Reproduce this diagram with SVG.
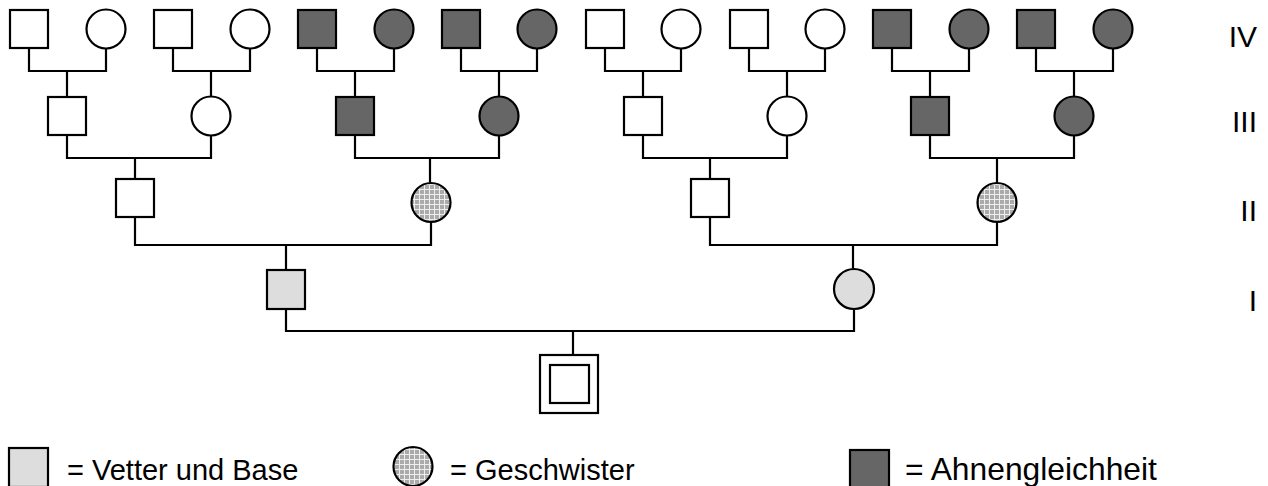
<svg xmlns="http://www.w3.org/2000/svg" width="1268" height="486" viewBox="0 0 1268 486">
<style>
.m{stroke:#000;stroke-width:2.2}
.w{fill:#fff}
.d{fill:#666}
.l{fill:#ddd}
.h{fill:url(#hatch)}
.ln{fill:none;stroke:#000;stroke-width:2.2}
text{font-family:"Liberation Sans",Arial,sans-serif;font-size:29px;fill:#000}
.g{text-anchor:end;font-size:30px}
.big{font-size:31.8px}
</style>
<defs>
<pattern id="hatch" width="5" height="5" patternUnits="userSpaceOnUse">
<rect width="5" height="5" fill="#eee"/>
<rect width="4" height="4" fill="#aaa"/>
</pattern>
</defs>
<g id="connectors" class="ln">
<path d="M29 48V71H106V48.5M67 71V97"/>
<path d="M173 48V71H250V48.5M211 71V97"/>
<path d="M317 48V71H394V48.5M355 71V97"/>
<path d="M461 48V71H537V48.5M499 71V97"/>
<path d="M605 48V71H681V48.5M643 71V97"/>
<path d="M749 48V71H825V48.5M787 71V97"/>
<path d="M892 48V71H969V48.5M930 71V97"/>
<path d="M1036 48V71H1113V48.5M1074 71V97"/>
<path d="M67 135V158H211V135.5M135 158V179"/>
<path d="M355 135V158H499V135.5M430 158V182.5"/>
<path d="M643 135V158H787V135.5M710 158V179"/>
<path d="M930 135V158H1074V135.5M997 158V182.5"/>
<path d="M135 217V245H431V221.5M286 245V270"/>
<path d="M710 217V245H997V221.5M853 245V268.5"/>
<path d="M286 309V331H854V309.5M573 331V355"/>
</g>
<g id="gen4">
<rect id="iv1" class="m w" x="10" y="10" width="38" height="38"/>
<circle id="iv2" class="m w" cx="106" cy="29" r="19.5"/>
<rect id="iv3" class="m w" x="154" y="10" width="38" height="38"/>
<circle id="iv4" class="m w" cx="250" cy="29" r="19.5"/>
<rect id="iv5" class="m d" x="298" y="10" width="38" height="38"/>
<circle id="iv6" class="m d" cx="394" cy="29" r="19.5"/>
<rect id="iv7" class="m d" x="442" y="10" width="38" height="38"/>
<circle id="iv8" class="m d" cx="537" cy="29" r="19.5"/>
<rect id="iv9" class="m w" x="586" y="10" width="38" height="38"/>
<circle id="iv10" class="m w" cx="681" cy="29" r="19.5"/>
<rect id="iv11" class="m w" x="730" y="10" width="38" height="38"/>
<circle id="iv12" class="m w" cx="825" cy="29" r="19.5"/>
<rect id="iv13" class="m d" x="873" y="10" width="38" height="38"/>
<circle id="iv14" class="m d" cx="969" cy="29" r="19.5"/>
<rect id="iv15" class="m d" x="1017" y="10" width="38" height="38"/>
<circle id="iv16" class="m d" cx="1113" cy="29" r="19.5"/>
</g>
<g id="gen3">
<rect id="iii1" class="m w" x="48" y="97" width="38" height="38"/>
<circle id="iii2" class="m w" cx="211" cy="116" r="19.5"/>
<rect id="iii3" class="m d" x="336" y="97" width="38" height="38"/>
<circle id="iii4" class="m d" cx="499" cy="116" r="19.5"/>
<rect id="iii5" class="m w" x="624" y="97" width="38" height="38"/>
<circle id="iii6" class="m w" cx="787" cy="116" r="19.5"/>
<rect id="iii7" class="m d" x="911" y="97" width="38" height="38"/>
<circle id="iii8" class="m d" cx="1074" cy="116" r="19.5"/>
</g>
<g id="gen2">
<rect id="ii1" class="m w" x="116" y="179" width="38" height="38"/>
<circle id="ii2" class="m h" cx="431" cy="202.5" r="19.5"/>
<rect id="ii3" class="m w" x="691" y="179" width="38" height="38"/>
<circle id="ii4" class="m h" cx="997" cy="202.5" r="19.5"/>
</g>
<g id="gen1">
<rect id="i1" class="m l" x="267" y="270" width="38" height="39"/>
<circle id="i2" class="m l" cx="854" cy="289" r="20"/>
</g>
<g id="proband">
<rect class="m w" x="540" y="355" width="58" height="58"/>
<rect class="m w" x="550" y="365" width="39" height="38"/>
</g>
<g id="generations">
<text class="g" x="1257" y="47">IV</text>
<text class="g" x="1257" y="132">III</text>
<text class="g" x="1257" y="221">II</text>
<text class="g" x="1257" y="311">I</text>
</g>
<g id="legend">
<rect class="m l" x="9" y="448" width="39" height="39"/>
<text x="67" y="480">= Vetter und Base</text>
<circle class="m h" cx="413" cy="466.5" r="19.5"/>
<text x="450" y="480">= Geschwister</text>
<rect class="m d" x="850" y="450" width="39" height="39"/>
<text class="big" x="905" y="480">= Ahnengleichheit</text>
</g>
</svg>
